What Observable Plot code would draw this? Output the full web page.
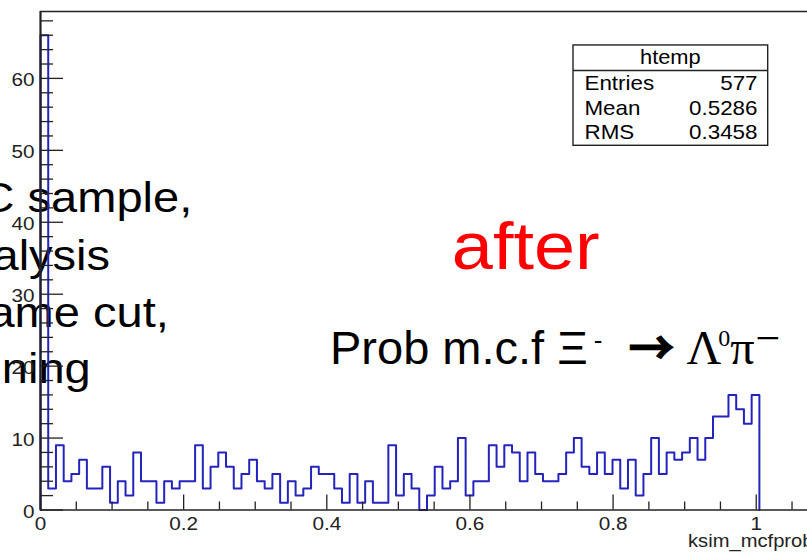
<!DOCTYPE html>
<html>
<head>
<meta charset="utf-8">
<script src="https://cdn.jsdelivr.net/npm/d3@7"></script>
<script src="https://cdn.jsdelivr.net/npm/@observablehq/plot@0.6"></script>
<style>
  html, body { margin: 0; padding: 0; overflow: hidden; background: #fff; }
</style>
</head>
<body>
<div id="chart"></div>
<script>
// htemp: ksim_mcfprob, 100 bins on [0, 1.08]; bins past 1.0 are empty
const binWidth = 0.0108;
const counts = [
  66, 3, 9, 4, 5, 7, 3, 3, 6, 1,
  4, 2, 8, 4, 4, 1, 4, 3, 4, 4,
  9, 3, 6, 8, 6, 3, 5, 7, 4, 3,
  5, 1, 4, 2, 3, 6, 5, 5, 3, 1,
  5, 1, 4, 1, 1, 9, 2, 5, 3, 0,
  2, 6, 3, 4, 10, 2, 4, 4, 9, 6,
  9, 8, 4, 8, 5, 4, 4, 5, 8, 10,
  6, 5, 8, 5, 7, 3, 7, 2, 5, 10,
  5, 8, 7, 8, 10, 7, 10, 13, 13, 16,
  14, 12, 16
];

// axis ticks and labels
const xMajorTicks = [0, 0.2, 0.4, 0.6, 0.8, 1];
const xTickLabels = ["0", "0.2", "0.4", "0.6", "0.8", "1"];
const xMinorTicks = [0.05, 0.1, 0.15, 0.25, 0.3, 0.35, 0.45, 0.5, 0.55, 0.65, 0.7, 0.75, 0.85, 0.9, 0.95, 1.05];
const yMajorTicks = [0, 10, 20, 30, 40, 50, 60];
const yTickLabels = ["0", "10", "20", "30", "40", "50", "60"];
const yMinorTicks = [2, 4, 6, 8, 12, 14, 16, 18, 22, 24, 26, 28, 32, 34, 36, 38, 42, 44, 46, 48, 52, 54, 56, 58, 62, 64, 66, 68];
const xTitle = "ksim_mcfprob";

// statistics box
const statsTitle = "htemp";
const statsNames = ["Entries", "Mean", "RMS"];
const statsValues = ["577", "0.5286", "0.3458"];

// annotations
const sideNotes = ["C sample,", "alysis", "ame cut,", "ning"];
const stageLabel = "after";
const decayParts = ["Prob m.c.f Ξ", "-", "→", "Λ", "0", "π", "−"];

// layout
const W = 813, H = 553, ML = 40, MT = 11, MB = 43.5;
const xMax = 1.08, yMax = 69.3;
const kx = (W - ML) / xMax;          // px per x unit
const ky = (H - MT - MB) / yMax;     // px per count
const sans = "'Liberation Sans', Arial, Helvetica, sans-serif";
const serif = "'Liberation Serif', 'Times New Roman', serif";
const cjk = "'Noto Sans CJK JP', 'Noto Sans CJK SC', 'DejaVu Sans', sans-serif";
const ink = "#222";

// step outline of the histogram
const outline = [{x: 0, y: 0}]
  .concat(counts.map((c, i) => ({x: i * binWidth, y: c})))
  .concat([{x: counts.length * binWidth, y: 0}]);

const notePos = [
  {x: -0.0838, y: 41.4},
  {x: -0.0671, y: 33.4},
  {x: -0.0727, y: 25.4},
  {x: -0.054, y: 17.6}
];
const statsRows = [58.32, 54.94, 51.61];

const chart = Plot.plot({
  width: W,
  height: H,
  marginLeft: ML,
  marginRight: 0,
  marginTop: MT,
  marginBottom: MB,
  style: {maxWidth: "none", background: "#fff", fontFamily: sans},
  x: {domain: [0, xMax], axis: null},
  y: {domain: [0, yMax], axis: null},
  marks: [
    // side notes, partly outside the canvas
    Plot.text(sideNotes, {
      x: (d, i) => notePos[i].x, y: (d, i) => notePos[i].y, text: d => d,
      textAnchor: "start", lineAnchor: "bottom", fontSize: 42, fontFamily: sans, fill: "#000"
    }),
    // histogram
    Plot.line(outline, {x: "x", y: "y", curve: "step-after", stroke: "#2424bd", strokeWidth: 2}),
    // frame
    Plot.ruleY([yMax], {stroke: ink, strokeWidth: 1.5}),
    Plot.ruleX([0], {stroke: ink, strokeWidth: 2.2}),
    Plot.ruleY([0], {stroke: ink, strokeWidth: 1.5}),
    // ticks drawn inside the frame
    Plot.ruleY(yMinorTicks, {x1: 0, x2: 13 / kx, stroke: ink, strokeWidth: 1.3}),
    Plot.ruleY(yMajorTicks, {x1: 0, x2: 23 / kx, stroke: ink, strokeWidth: 1.3}),
    Plot.ruleX(xMinorTicks, {y1: 0, y2: 8 / ky, stroke: ink, strokeWidth: 1.3}),
    Plot.ruleX(xMajorTicks, {y1: 0, y2: 15 / ky, stroke: ink, strokeWidth: 1.3}),
    // tick labels
    Plot.text(yMajorTicks, {
      x: 0, y: d => d, text: yTickLabels, textAnchor: "end", dx: -6, dy: 2,
      fontSize: 18.5, fill: ink
    }),
    Plot.text(xMajorTicks, {
      x: d => d, y: 0, text: xTickLabels, dy: 14, fontSize: 18.5, fill: ink
    }),
    Plot.text([xTitle], {
      x: xMax, y: 0, text: d => d, textAnchor: "end", lineAnchor: "bottom", dy: 37.2,
      fontSize: 18, fill: ink
    }),
    // statistics box
    Plot.rect([statsTitle], {x1: 0.7447, x2: 1.0167, y1: 50.63, y2: 64.58, fill: "#fff", stroke: ink, strokeWidth: 1.4}),
    Plot.ruleY([61.1], {x1: 0.7447, x2: 1.0167, stroke: ink, strokeWidth: 1.4}),
    Plot.text([statsTitle], {x: 0.880, y: 62.03, text: d => d, lineAnchor: "bottom", fontSize: 19.5, fill: "#000"}),
    Plot.text(statsNames, {
      x: 0.760, y: (d, i) => statsRows[i], text: d => d,
      textAnchor: "start", lineAnchor: "bottom", fontSize: 20, fill: "#000"
    }),
    Plot.text(statsValues, {
      x: 1.0018, y: (d, i) => statsRows[i], text: d => d,
      textAnchor: "end", lineAnchor: "bottom", fontSize: 20, fill: "#000"
    }),
    // annotations
    Plot.text([stageLabel], {
      x: 0.678, y: 33.5, text: d => d, lineAnchor: "bottom", fontSize: 66, fill: "#ff0000"
    }),
    Plot.text([decayParts.join("")], {
      x: 0.4045, y: 20.33, text: d => d, textAnchor: "start", lineAnchor: "bottom",
      fontSize: 47, fill: "#000"
    })
  ]
});

// decay label: Greek letters, superscripts and arrow set as tspans
const decayText = decayParts.join("");
const decayNode = d3.select(chart).selectAll("text")
  .filter(function () { return this.textContent === decayText; });
decayNode.attr("data-role", "decay").text(null);
const partStyle = [
  {family: sans, size: 47},
  {family: sans, size: 26, dx: 6, dy: -15},
  {family: cjk, size: 46, weight: "bold", dx: 26, dy: 15, stroke: 1.2},
  {family: serif, size: 48, dx: 12},
  {family: serif, size: 24, dx: -3, dy: -18},
  {family: serif, size: 48, dy: 18},
  {family: serif, size: 44, dx: 1, dy: -11}
];
decayParts.forEach((p, i) => {
  const s = partStyle[i];
  const ts = decayNode.append("tspan")
    .attr("font-family", s.family)
    .attr("font-size", s.size)
    .text(p);
  if (s.weight) ts.attr("font-weight", s.weight);
  if (s.stroke) ts.attr("stroke", "#000").attr("stroke-width", s.stroke);
  if (s.dx) ts.attr("dx", s.dx);
  if (s.dy) ts.attr("dy", s.dy);
});

// the canvas text is slightly wider than the font's natural proportions
d3.select(chart).selectAll("text").each(function () {
  if (this.getAttribute("data-role") === "decay") return;
  const t = this.getAttribute("transform");
  this.setAttribute("transform", (t ? t + " " : "") + "scale(1.12,1)");
});

document.getElementById("chart").appendChild(chart);
</script>
</body>
</html>
